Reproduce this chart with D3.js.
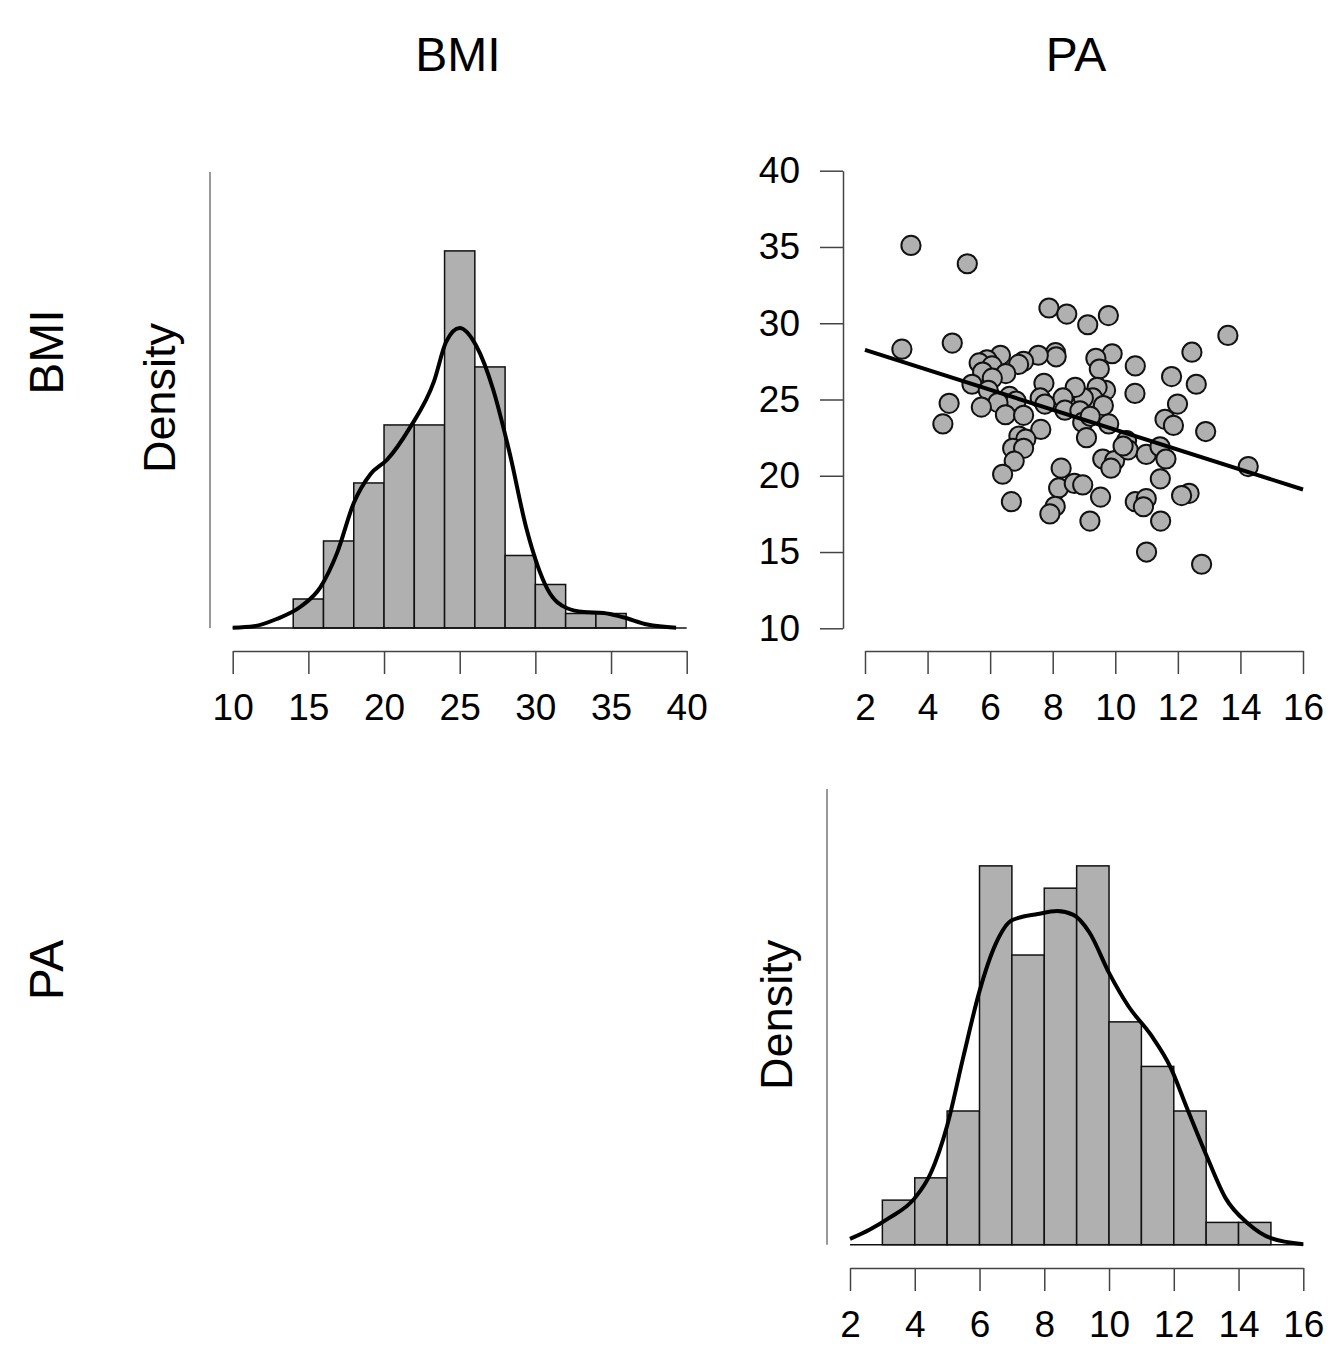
<!DOCTYPE html>
<html>
<head>
<meta charset="utf-8">
<script src="https://cdn.jsdelivr.net/npm/d3@7"></script>
<style>
  body { margin: 0; background: #fff; }
  text { font-family: "Liberation Sans", Arial, sans-serif; fill: #000; }
</style>
</head>
<body>
<svg id="chart" width="1331" height="1354"></svg>
<script>
// variable names
const variables = ['BMI', 'PA'];

// BMI histogram (bin width 2, n = 100)
const bmiBinStarts = [14, 16, 18, 20, 22, 24, 26, 28, 30, 32, 34];
const bmiCounts = [2, 6, 10, 14, 14, 26, 18, 5, 3, 1, 1];
const bmiTicks = [10, 15, 20, 25, 30, 35, 40];

// BMI density curve
const bmiDensX = [10, 11.4, 12.9, 14.5, 15.8, 16.9, 18, 19.1, 20.2, 21.7, 23.3, 24.1, 25,
  26.1, 27.2, 28.3, 29.4, 30.8, 32.1, 33.2, 34.5, 35.8, 37.4, 39.3];
const bmiDensY = [0.0001, 0.0006, 0.0031, 0.0074, 0.0141, 0.0259, 0.0431, 0.053, 0.058,
  0.069, 0.085, 0.0986, 0.1034, 0.0972, 0.0824, 0.0603, 0.0345, 0.0134, 0.0068, 0.0055,
  0.0052, 0.0037, 0.0012, 0.0001];

// PA histogram (bin width 1, n = 100)
const paBinStarts = [3, 4, 5, 6, 7, 8, 9, 10, 11, 12, 13, 14];
const paCounts = [2, 3, 6, 17, 13, 16, 17, 10, 8, 6, 1, 1];
const paTicks = [2, 4, 6, 8, 10, 12, 14, 16];

// PA density curve
const paDensX = [2, 2.6, 3.2, 4, 4.5, 5, 5.5, 6, 6.5, 7, 7.8, 8.4, 8.9, 9.4, 10, 10.6,
  11.3, 11.9, 12.4, 13, 13.6, 14.3, 15, 16];
const paDensY = [0.0026, 0.0067, 0.0119, 0.0209, 0.0323, 0.0534, 0.0843, 0.1138, 0.135,
  0.1456, 0.1484, 0.1497, 0.148, 0.14, 0.122, 0.107, 0.094, 0.0796, 0.0616, 0.0404,
  0.0209, 0.0094, 0.0029, 0.0002];

// scatter: PA (x) against BMI (y)
const scatterPA = [3.47, 5.27, 7.88, 8.45, 9.12, 9.78, 13.6, 3.18, 4.79, 12.45, 9.9, 9.38,
  9.49, 8.09, 8.11, 7.54, 7.07, 6.91, 6.33, 5.9, 5.65, 6.06, 5.76, 6.5, 6.07, 5.42, 5.94,
  7.72, 10.64, 11.8, 12.59, 10.63, 9.69, 9.42, 9.28, 9.62, 8.98, 8.72, 8.33, 8.39, 8.87,
  8.96, 9.2, 9.79, 9.08, 7.6, 7.75, 6.62, 6.83, 6.25, 5.72, 4.69, 4.49, 6.49, 7.07, 7.62,
  6.92, 7.14, 6.72, 7.07, 6.77, 6.4, 6.68, 8.27, 8.19, 8.69, 8.96, 8.08, 7.91, 9.53, 9.19,
  9.6, 9.98, 9.86, 10.36, 10.41, 10.99, 11.43, 11.62, 11.59, 11.86, 11.99, 12.89, 14.25,
  11.44, 12.36, 12.12, 10.64, 10.99, 10.9, 11.45, 11.0, 12.76, 10.25];
const scatterBMI = [35.1, 33.9, 31.0, 30.6, 29.9, 30.5, 29.2, 28.3, 28.7, 28.1, 28.0, 27.7,
  27.0, 28.07, 27.8, 27.9, 27.5, 27.3, 27.9, 27.6, 27.4, 27.2, 26.8, 26.7, 26.4, 26.0, 25.6,
  26.06, 27.2, 26.5, 26.0, 25.4, 25.6, 25.8, 25.1, 24.6, 25.1, 25.8, 25.1, 24.3, 24.26,
  23.5, 23.9, 23.4, 22.5, 25.1, 24.7, 25.2, 24.9, 24.8, 24.5, 24.75, 23.4, 24.0, 23.96, 23.04,
  22.6, 22.4, 21.8, 21.8, 20.96, 20.1, 18.3, 20.5, 19.2, 19.5, 19.4, 18.0, 17.5, 18.6, 17.03,
  21.1, 21.0, 20.5, 22.3, 21.7, 21.4, 21.9, 21.1, 23.7, 23.3, 24.7, 22.9, 20.6,
  19.8, 18.85, 18.7, 18.3, 18.5, 17.97, 17.03, 15.0, 14.2, 21.95];
const scatterXTicks = [2, 4, 6, 8, 10, 12, 14, 16];
const scatterYTicks = [10, 15, 20, 25, 30, 35, 40];

// fitted regression line, read at its two ends
const fitX = [2, 16];
const fitY = [28.25, 19.1];

const svg = d3.select('#chart');
const tickLen = 23;
const tickPad = 20;
const tickFont = 37;
const barFill = '#b0b0b0';

function styleAxis(g) {
  g.select('.domain').attr('stroke', '#444').attr('stroke-width', 1.5);
  g.selectAll('.tick line').attr('stroke', '#444').attr('stroke-width', 1.5);
  g.selectAll('.tick text')
    .attr('font-size', tickFont)
    .attr('font-family', '"Liberation Sans", Arial, sans-serif')
    .attr('fill', '#000');
}

// titles
svg.selectAll('.col-title')
  .data(variables)
  .enter()
  .append('text')
  .attr('class', 'col-title')
  .attr('x', (d, i) => [458, 1076][i])
  .attr('y', 71)
  .attr('text-anchor', 'middle')
  .attr('font-size', 48)
  .text(d => d);

svg.selectAll('.row-title')
  .data(variables)
  .enter()
  .append('text')
  .attr('class', 'row-title')
  .attr('transform', (d, i) => `translate(63, ${[352, 970][i]}) rotate(-90)`)
  .attr('text-anchor', 'middle')
  .attr('font-size', 48)
  .text(d => d);

// histogram + density panel
function histPanel(opts) {
  const { binStarts, counts, binWidth, densX, densY, ticks, xRange, yBase, yTop, yMax, yAxisX, xAxisY } = opts;
  const n = d3.sum(counts);
  const x = d3.scaleLinear().domain(d3.extent(ticks)).range(xRange);
  const y = d3.scaleLinear().domain([0, yMax]).range([yBase, yTop]);
  const g = svg.append('g');

  g.selectAll('.bar')
    .data(binStarts)
    .enter()
    .append('rect')
    .attr('class', 'bar')
    .attr('x', d => x(d))
    .attr('width', d => x(d + binWidth) - x(d))
    .attr('y', (d, i) => y(counts[i] / (n * binWidth)))
    .attr('height', (d, i) => yBase - y(counts[i] / (n * binWidth)))
    .attr('fill', barFill)
    .attr('stroke', '#111')
    .attr('stroke-width', 1.5);

  // baseline
  g.append('line')
    .attr('x1', xRange[0]).attr('x2', xRange[1])
    .attr('y1', yBase).attr('y2', yBase)
    .attr('stroke', '#111').attr('stroke-width', 1.5);

  const line = d3.line()
    .x((d, i) => x(densX[i]))
    .y(d => y(d))
    .curve(d3.curveMonotoneX);

  g.append('path')
    .attr('d', line(densY))
    .attr('fill', 'none')
    .attr('stroke', '#000')
    .attr('stroke-width', 4);

  // y axis: plain line, no ticks
  g.append('line')
    .attr('x1', yAxisX).attr('x2', yAxisX)
    .attr('y1', yTop).attr('y2', yBase)
    .attr('stroke', '#777').attr('stroke-width', 1.5);

  g.append('text')
    .attr('transform', `translate(${yAxisX - 35}, ${(yTop + yBase) / 2 - 2}) rotate(-90)`)
    .attr('text-anchor', 'middle')
    .attr('font-size', 45)
    .text('Density');

  g.append('g')
    .attr('transform', `translate(0, ${xAxisY})`)
    .call(d3.axisBottom(x).tickValues(ticks).tickSize(tickLen).tickSizeOuter(0).tickPadding(tickPad))
    .call(styleAxis);
}

histPanel({
  binStarts: bmiBinStarts, counts: bmiCounts, binWidth: 2,
  densX: bmiDensX, densY: bmiDensY, ticks: bmiTicks,
  xRange: [232.7, 686.7], yBase: 628, yTop: 172, yMax: 0.1572,
  yAxisX: 210, xAxisY: 651
});

histPanel({
  binStarts: paBinStarts, counts: paCounts, binWidth: 1,
  densX: paDensX, densY: paDensY, ticks: paTicks,
  xRange: [850, 1303.3], yBase: 1244.7, yTop: 789, yMax: 0.2045,
  yAxisX: 827, xAxisY: 1268
});

// scatter panel
const sx = d3.scaleLinear().domain([2, 16]).range([865, 1303]);
const sy = d3.scaleLinear().domain([10, 40]).range([628.3, 170.7]);
const sg = svg.append('g');

sg.append('g')
  .attr('transform', 'translate(843, 0)')
  .call(d3.axisLeft(sy).tickValues(scatterYTicks).tickSize(tickLen).tickSizeOuter(0).tickPadding(tickPad))
  .call(styleAxis);

sg.append('g')
  .attr('transform', 'translate(0, 651)')
  .call(d3.axisBottom(sx).tickValues(scatterXTicks).tickSize(tickLen).tickSizeOuter(0).tickPadding(tickPad))
  .call(styleAxis);

sg.selectAll('.pt')
  .data(scatterPA)
  .enter()
  .append('circle')
  .attr('class', 'pt')
  .attr('cx', d => sx(d))
  .attr('cy', (d, i) => sy(scatterBMI[i]))
  .attr('r', 9.6)
  .attr('fill', barFill)
  .attr('stroke', '#111')
  .attr('stroke-width', 2);

sg.append('path')
  .attr('d', d3.line().x(d => sx(d)).y((d, i) => sy(fitY[i]))(fitX))
  .attr('fill', 'none')
  .attr('stroke', '#000')
  .attr('stroke-width', 4);
</script>
</body>
</html>
